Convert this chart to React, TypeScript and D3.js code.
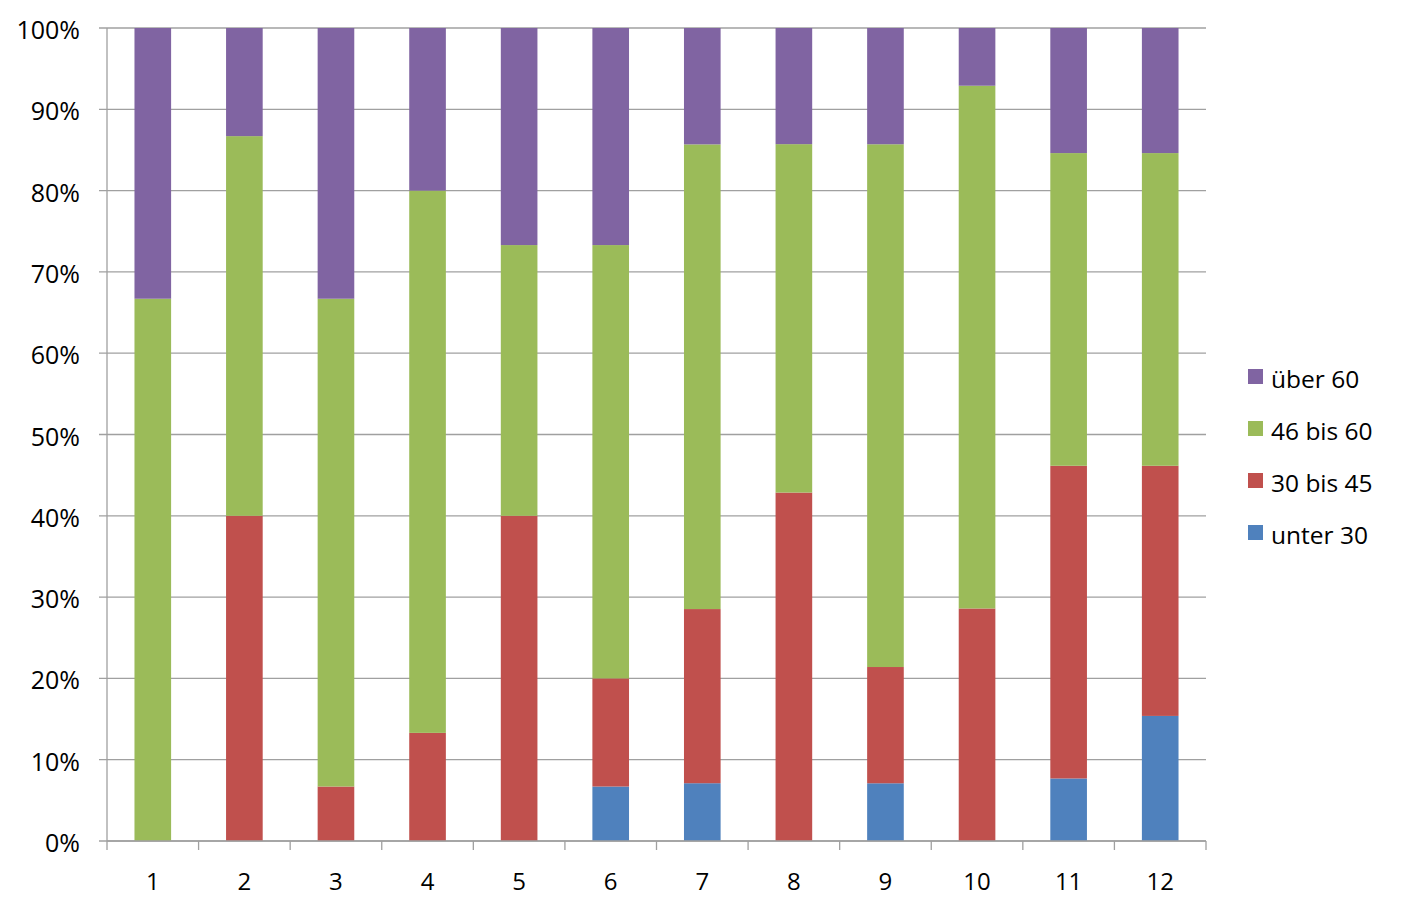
import React from "react";
import * as d3 from "d3";

const categories = ["1", "2", "3", "4", "5", "6", "7", "8", "9", "10", "11", "12"];
const seriesNames = ["unter 30", "30 bis 45", "46 bis 60", "über 60"];
const unter30 = [0, 0, 0, 0, 0, 6.7, 7.1, 0, 7.1, 0, 7.7, 15.4];
const bis45 = [0, 40, 6.7, 13.3, 40, 13.3, 21.4, 42.9, 14.3, 28.6, 38.5, 30.8];
const bis60 = [66.7, 46.7, 60, 66.7, 33.3, 53.3, 57.1, 42.9, 64.3, 64.3, 38.5, 38.5];
const ueber60 = [33.3, 13.3, 33.3, 20, 26.7, 26.7, 14.3, 14.3, 14.3, 7.1, 15.4, 15.4];
const colors = ["#4F81BD", "#C0504D", "#9BBB59", "#8064A2"];
const yTicks = [0, 10, 20, 30, 40, 50, 60, 70, 80, 90, 100];

export default function App() {
  const W = 1405, H = 910;
  const left = 107, right = 1206, top = 28, bottom = 841;
  const x = d3.scaleBand().domain(categories).range([left, right]).paddingInner(0).paddingOuter(0);
  const y = d3.scaleLinear().domain([0, 100]).range([bottom, top]);
  const rows = categories.map((c, i) => ({ cat: c, s0: unter30[i], s1: bis45[i], s2: bis60[i], s3: ueber60[i] }));
  const stack = d3.stack<any>().keys(["s0", "s1", "s2", "s3"]).offset(d3.stackOffsetExpand);
  const layers = stack(rows);
  const bw = x.bandwidth() * 0.4;
  const font = "'Open Sans', sans-serif";
  const legendOrder = [3, 2, 1, 0];
  return (
    <svg width={W} height={H} style={{ position: "absolute", left: 0, top: 0, background: "#fff" }}>
      {yTicks.map((t) => (
        <g key={t}>
          <line x1={99} x2={right} y1={y(t)} y2={y(t)} stroke="#A0A0A0" strokeWidth={1.3} />
          <text x={80} y={y(t) + 11} textAnchor="end" fontFamily={font} fontSize={25} fill="#000">
            {t}%
          </text>
        </g>
      ))}
      {layers.map((layer, li) => (
        <g key={li} fill={colors[li]}>
          {layer.map((d, i) => {
            const y0 = y(d[0] * 100), y1 = y(d[1] * 100);
            if (y0 - y1 <= 0) return null;
            return (
              <rect key={i} x={x(categories[i])! + (x.bandwidth() - bw) / 2} width={bw} y={y1} height={y0 - y1} />
            );
          })}
        </g>
      ))}
      <line x1={left} x2={left} y1={top} y2={bottom} stroke="#A0A0A0" strokeWidth={1.3} />
      <line x1={left} x2={right} y1={bottom} y2={bottom} stroke="#A0A0A0" strokeWidth={1.3} />
      {categories.map((c, i) => (
        <line key={"t" + i} x1={x(c)!} x2={x(c)!} y1={bottom} y2={850} stroke="#A0A0A0" strokeWidth={1.3} />
      ))}
      <line x1={right} x2={right} y1={bottom} y2={850} stroke="#A0A0A0" strokeWidth={1.3} />
      {categories.map((c) => (
        <text key={"l" + c} x={x(c)! + x.bandwidth() / 2} y={890} textAnchor="middle" fontFamily={font} fontSize={24}>
          {c}
        </text>
      ))}
      {legendOrder.map((si, k) => (
        <g key={"lg" + si} transform={`translate(1248, ${369 + k * 52})`}>
          <rect x={0} y={0} width={15} height={15} fill={colors[si]} />
          <text x={23} y={19} fontFamily={font} fontSize={24.5}>
            {seriesNames[si]}
          </text>
        </g>
      ))}
    </svg>
  );
}
